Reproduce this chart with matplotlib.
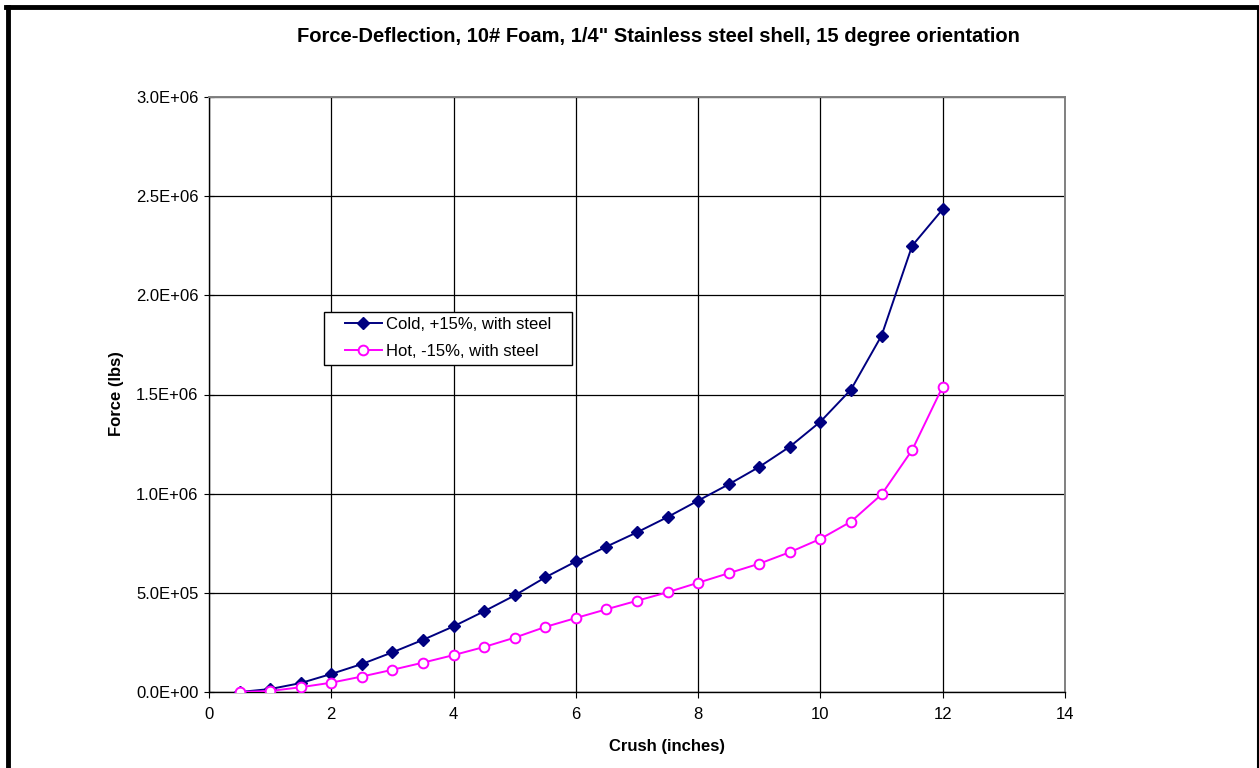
import matplotlib
matplotlib.use("Agg")
import matplotlib.pyplot as plt
from matplotlib.lines import Line2D
from matplotlib.patches import Rectangle

plt.rcParams['font.family'] = ['Liberation Sans', 'DejaVu Sans']

# crush in inches
crush = [0.5, 1.0, 1.5, 2.0, 2.5, 3.0, 3.5, 4.0, 4.5, 5.0, 5.5, 6.0,
         6.5, 7.0, 7.5, 8.0, 8.5, 9.0, 9.5, 10.0, 10.5, 11.0, 11.5, 12.0]

# force (lbs)
cold = [0, 1.5e4, 4.5e4, 9.1e4, 1.41e5, 2.0e5, 2.63e5, 3.31e5, 4.07e5, 4.87e5,
        5.78e5, 6.58e5, 7.33e5, 8.05e5, 8.82e5, 9.65e5, 1.047e6, 1.135e6,
        1.237e6, 1.363e6, 1.525e6, 1.797e6, 2.25e6, 2.434e6]
hot = [0, 5e3, 2.4e4, 4.7e4, 7.8e4, 1.12e5, 1.48e5, 1.86e5, 2.27e5, 2.74e5,
       3.28e5, 3.73e5, 4.17e5, 4.6e5, 5.03e5, 5.51e5, 5.99e5, 6.47e5,
       7.05e5, 7.72e5, 8.59e5, 9.96e5, 1.22e6, 1.54e6]

xticks = list(range(0, 15, 2))
yticks = [0, 5e5, 1e6, 1.5e6, 2e6, 2.5e6, 3e6]
ytick_labels = ['0.0E+00', '5.0E+05', '1.0E+06', '1.5E+06', '2.0E+06', '2.5E+06', '3.0E+06']

W, H = 1259, 768
fig = plt.figure(figsize=(W / 100, H / 100), dpi=100)
ax = fig.add_axes([209/W, 1 - 692/H, (1065-209)/W, (692-97)/H])

ax.plot(crush, cold, color='#000080', marker='D', markersize=6, lw=1.4,
        label='Cold, +15%, with steel', zorder=3)
ax.plot(crush, hot, color='#FF00FF', marker='o', markersize=7, lw=1.4,
        markerfacecolor='white', markeredgewidth=1.4,
        label='Hot, -15%, with steel', zorder=3)

ax.set_xlim(0, 14)
ax.set_ylim(0, 3e6)
ax.set_xticks(xticks)
ax.set_yticks(yticks)
ax.set_yticklabels(ytick_labels)
ax.tick_params(labelsize=12, color='black')
ax.tick_params(axis='y', direction='inout', length=7, pad=4)
ax.tick_params(axis='x', direction='out', length=4, pad=7)
ax.grid(True, color='black', lw=0.9)
ax.set_axisbelow(True)
for side in ['top', 'right']:
    ax.spines[side].set_color('#808080')
    ax.spines[side].set_linewidth(1.4)
for side in ['left', 'bottom']:
    ax.spines[side].set_color('black')
    ax.spines[side].set_linewidth(1.0)

fig.text(667/W, 1 - 746/H, 'Crush (inches)', ha='center', va='center',
         fontsize=12, fontweight='bold')
fig.text(116/W, 1 - 394/H, 'Force (lbs)', ha='center', va='center',
         rotation=90, fontsize=12, fontweight='bold')
fig.text(658/W, 1 - 37/H, 'Force-Deflection, 10# Foam, 1/4" Stainless steel shell, 15 degree orientation',
         ha='center', va='center', fontsize=14.5, fontweight='bold')

# legend box drawn separately, entries placed inside without a frame
ax.add_patch(Rectangle((324/W, 1 - 365/H), (572-324)/W, (365-312)/H,
                       transform=fig.transFigure, facecolor='white',
                       edgecolor='black', lw=1.0, zorder=4, clip_on=False))
leg = ax.legend(loc='upper left', bbox_to_anchor=((345-209)/856, (692-317)/595),
                borderaxespad=0, borderpad=0, fontsize=12, frameon=False,
                handlelength=2.2, handletextpad=0.25, labelspacing=0.72)
leg.set_zorder(5)

# chart border: thick on left/top, thin on right
fig.add_artist(Line2D([8/W, 8/W], [0, 1 - 7/H], transform=fig.transFigure, color='black', lw=3.5))
fig.add_artist(Line2D([6/W, 1], [1 - 7/H, 1 - 7/H], transform=fig.transFigure, color='black', lw=3.5))
fig.add_artist(Line2D([1 - 1.5/W, 1 - 1.5/W], [0, 1 - 7/H], transform=fig.transFigure, color='black', lw=1.5))

fig.savefig('out.png', dpi=100)
